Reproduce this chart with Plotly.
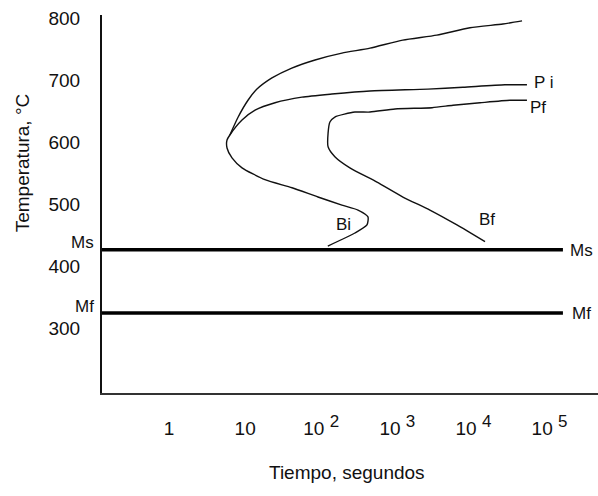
import numpy as np
import plotly.graph_objects as go

# ---- data (time in seconds, temperature in °C) ----
upper_t = [6.3, 8.1, 10.9, 14.3, 22.5, 41, 83, 187, 437, 1180, 3300, 9000, 24400, 43500]
upper_T = [612, 641, 668, 686, 704, 720, 733, 744, 752, 765, 773, 785, 791, 796]

start_t = [50500, 25900, 7280, 2520, 437, 138, 55.8, 24.7, 13.5, 9.1, 6.3,
           5.78, 5.78, 6.72, 9.1, 18.2, 41.3, 90.6, 187, 304, 411, 399, 277, 122]
start_T = [693, 693, 689, 686, 683, 678, 673, 664, 652, 636, 612,
           604, 591, 575, 559, 540, 527, 512, 499, 491, 480, 467, 454, 433]

finish_t = [50500, 30200, 12200, 5390, 2860, 933, 437, 277, 151, 130, 123, 123,
            151, 238, 540, 1183, 2680, 6070, 14200]
finish_T = [668, 668, 664, 660, 656, 654, 649, 649, 641, 633, 615, 593,
            577, 559, 536, 512, 491, 467, 440]

ms_T = 427
mf_T = 325
line_end_t = 1.5e5

x_log_range = [-0.881, 5.637]
y_range = [196, 805.5]

tick_vals_x = [1, 10, 100, 1000, 10000, 100000]
sup = "<sup><span style='font-size:17px'>{}</span></sup>"
tick_text_x = ["1", "10", "10 " + sup.format(2), "10 " + sup.format(3),
               "10 " + sup.format(4), "10 " + sup.format(5)]
tick_vals_y = [300, 400, 500, 600, 700, 800]

curve_labels = [("P i", 58900, 696, "left"), ("Pf", 52100, 656, "left"),
                ("Bi", 194, 467, "center"), ("Bf", 15070, 475, "center"),
                ("Ms", 175000, 425, "left"), ("Mf", 186000, 325, "left")]
left_labels = [("Ms", 438), ("Mf", 335)]

FONT = "Liberation Sans, Arial, sans-serif"
INK = "#111111"

fig = go.Figure()
line_style = dict(color=INK, width=1.4, shape="spline", smoothing=0.6)
for xs, ys in [(upper_t, upper_T), (start_t, start_T), (finish_t, finish_T)]:
    fig.add_trace(go.Scatter(x=xs, y=ys, mode="lines", line=line_style,
                             hoverinfo="skip", showlegend=False))

t_min = 10 ** x_log_range[0]
for T in (ms_T, mf_T):
    fig.add_trace(go.Scatter(x=[t_min, line_end_t], y=[T, T], mode="lines",
                             line=dict(color="#000000", width=3.4),
                             hoverinfo="skip", showlegend=False))

for text, t, T, anchor in curve_labels:
    fig.add_annotation(x=np.log10(t), y=T, xref="x", yref="y", text=text,
                       showarrow=False, xanchor=anchor, yanchor="middle",
                       font=dict(family=FONT, size=17, color=INK))
for text, T in left_labels:
    fig.add_annotation(x=-0.012, y=T, xref="paper", yref="y", text=text,
                       showarrow=False, xanchor="right", yanchor="middle",
                       font=dict(family=FONT, size=17, color=INK))

fig.add_annotation(x=-0.161, y=0.608, xref="paper", yref="paper",
                   text="Temperatura, °C", textangle=-90, showarrow=False,
                   xanchor="center", yanchor="middle",
                   font=dict(family=FONT, size=19, color=INK))
fig.add_annotation(x=0.494, y=-0.209, xref="paper", yref="paper",
                   text="Tiempo, segundos", showarrow=False,
                   xanchor="center", yanchor="middle",
                   font=dict(family=FONT, size=19, color=INK))

fig.update_xaxes(type="log", range=x_log_range, tickvals=tick_vals_x, ticktext=tick_text_x,
                 showgrid=False, zeroline=False, showline=True, linecolor="#333333",
                 linewidth=2, ticks="", ticklabelstandoff=17,
                 tickfont=dict(family=FONT, size=19, color=INK))
fig.update_yaxes(range=y_range, tickvals=tick_vals_y, showgrid=False, zeroline=False,
                 showline=True, linecolor=INK, linewidth=2, ticks="",
                 ticklabelstandoff=16, tickfont=dict(family=FONT, size=19, color=INK))

fig.update_layout(width=598, height=496, margin=dict(l=102, r=0, t=15, b=103),
                  paper_bgcolor="white", plot_bgcolor="white")

fig.write_html("out.html")
